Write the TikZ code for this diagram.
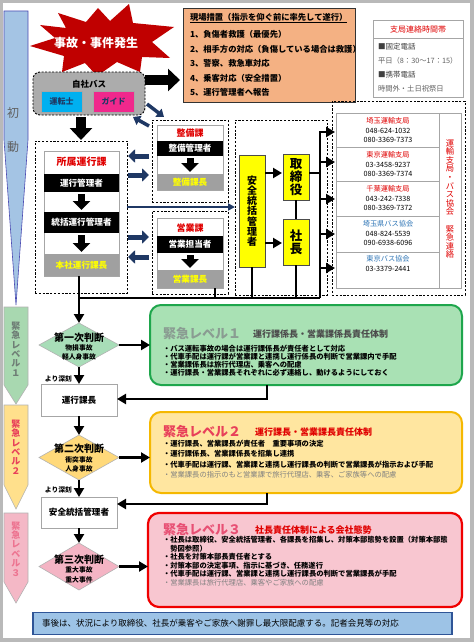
\documentclass[tikz,border=0pt]{standalone}
\usepackage{fontspec}
\setmainfont{Noto Sans CJK JP}
\usetikzlibrary{arrows.meta,shapes.geometric}
\newcommand\jfs[1]{\fontsize{#1}{#1}\selectfont}
\definecolor{navy}{HTML}{1F3864}
\definecolor{phaseblue}{HTML}{A4C4E4}
\definecolor{lvonebar}{HTML}{A8D8B0}
\definecolor{lvtwobar}{HTML}{FFE08C}
\definecolor{lvthreebar}{HTML}{F4B8C6}
\definecolor{lvonefill}{HTML}{A9E1B4}
\definecolor{lvoneline}{HTML}{1EA64C}
\definecolor{lvtwofill}{HTML}{FFE6A0}
\definecolor{lvtwoline}{HTML}{F5B800}
\definecolor{lvthreefill}{HTML}{F8C6D0}
\definecolor{lvthreeline}{HTML}{F00000}
\definecolor{diaone}{HTML}{A8DDB8}
\definecolor{diatwo}{HTML}{FFD97A}
\definecolor{diathree}{HTML}{F4B4C4}
\definecolor{orangebox}{HTML}{F4B183}
\definecolor{burst}{HTML}{C00000}
\definecolor{cyanbox}{HTML}{00B0F0}
\definecolor{magbox}{HTML}{F0288C}
\definecolor{grayband}{HTML}{A0A0A0}
\definecolor{ylw}{HTML}{FFFF00}
\definecolor{footfill}{HTML}{9DC3E6}
\definecolor{footline}{HTML}{2F5597}
\definecolor{txtgray}{HTML}{606060}
\definecolor{redtxt}{HTML}{E00000}
\definecolor{bluetxt}{HTML}{2E75B6}
\definecolor{lvonetitle}{HTML}{8A9C92}
\definecolor{lvtwotitle}{HTML}{E8405A}
\definecolor{lvthreetitle}{HTML}{E85074}
\begin{document}
\begin{tikzpicture}[x=1pt,y=-1pt,
  every node/.style={inner sep=0pt,outer sep=0pt},
  dashbox/.style={draw=black,line width=0.9pt,dash pattern=on 2.2pt off 1.6pt},
  wbox/.style={draw=gray!70,fill=white,line width=0.6pt},
  bandk/.style={fill=black,text=white,font=\jfs{8.6}\bfseries},
  bandg/.style={fill=grayband,text=ylw,font=\jfs{8.6}\bfseries},
  ybox/.style={draw=gray!60!black,fill=ylw,line width=0.6pt,align=center},
  flowbox/.style={draw=gray!70,fill=white,line width=0.6pt,font=\jfs{8.6}\bfseries},
  judg/.style={diamond,draw=gray!60,line width=0.6pt,minimum width=80,minimum height=44},
  bigarr/.style={line width=10pt,-{Triangle[width=22pt,length=12pt]}},
  midarr/.style={line width=7pt,-{Triangle[width=17pt,length=9pt]}},
  navyarr/.style={navy,line width=5pt,-{Triangle[width=13pt,length=7pt]}},
  navydiag/.style={navy,line width=3.5pt,-{Triangle[width=10pt,length=7pt]}},
  navythin/.style={navy,line width=1.8pt,-{Triangle[width=7pt,length=7pt]}},
  flowarr/.style={line width=2.8pt,-{Triangle[width=10pt,length=9pt]}},
  busline/.style={line width=2.8pt},
  bul/.style={anchor=west,font=\jfs{7.3}\bfseries},
  bulgray/.style={anchor=west,font=\jfs{7.3},text=gray},
  ctxt/.style={font=\jfs{7.2}}
]
\useasboundingbox (0,0) rectangle (474,642);
\fill[gray!55] (0,0) rectangle (474,642);
\fill[white] (3,3) rectangle (470,638);

% phase bars
\draw[fill=phaseblue,draw=gray!60!blue,line width=0.6pt] (4,11) -- (28,11) -- (28,140) -- (16,305) -- (4,140) -- cycle;
\node[text=txtgray,font=\jfs{12}] (sho) at (13,113) {初};
\node[text=txtgray,font=\jfs{12}] (dou) at (13,147) {動};
\draw[fill=lvonebar,draw=gray!60,line width=0.6pt] (4,307) -- (28,307) -- (28,385) -- (16,404) -- (4,385) -- cycle;
\node[text=lvonetitle!80!black,font=\fontsize{9}{9.4}\selectfont\bfseries,align=center] (lvonev) at (16,349) {緊\\急\\レ\\ベ\\ル\\１};
\draw[fill=lvtwobar,draw=gray!60,line width=0.6pt] (4,405) -- (28,405) -- (28,485) -- (16,509) -- (4,485) -- cycle;
\node[text=lvtwotitle,font=\fontsize{9}{9.4}\selectfont\bfseries,align=center] (lvtwov) at (16,447) {緊\\急\\レ\\ベ\\ル\\２};
\draw[fill=lvthreebar,draw=gray!60,line width=0.6pt] (4,513) -- (28,513) -- (28,582) -- (16,603) -- (4,582) -- cycle;
\node[text=lvthreetitle!80!white,font=\fontsize{9}{9.4}\selectfont\bfseries,align=center] (lvthreev) at (16,549) {緊\\急\\レ\\ベ\\ル\\３};

% starburst
\fill[burst] (30,46) -- (55,38) -- (40,25) -- (66,28) -- (58,13) -- (86,22) -- (98,8) -- (110,21) -- (129,4) -- (133,23) -- (174,27) -- (152,42) -- (170,58) -- (142,57) -- (140,72) -- (117,62) -- (97,76) -- (85,63) -- (62,72) -- (64,56) -- cycle;
\node[text=white,font=\jfs{12}\bfseries] (burstT) at (96,43) {事故・事件発生};

% own bus
\node[draw=black,dash pattern=on 2pt off 1.5pt,line width=0.9pt,fill=gray!65,rounded corners=7pt,minimum width=112,minimum height=43] (bus) at (89,93.5) {};
\node[font=\jfs{8.5}\bfseries] (busT) at (89,84.5) {自社バス};
\node[fill=cyanbox,draw=gray!70,minimum width=41,minimum height=21,font=\jfs{8}\bfseries,text=navy] (drv) at (61.5,101.5) {運転士};
\node[fill=magbox,draw=gray!70,minimum width=41,minimum height=21,font=\jfs{8}\bfseries,text=navy] (gd) at (113.5,101.5) {ガイド};

% on-site measures
\node[draw=gray!40!black,fill=orangebox,line width=0.6pt,minimum width=172,minimum height=94] (genba) at (269,55) {};
\node[anchor=west,font=\jfs{8.3}\bfseries] (gzero) at (190,18) {\underline{現場措置（指示を仰ぐ前に率先して遂行）}};
\node[anchor=west,font=\jfs{8.3}\bfseries] (gone) at (190,34) {1、負傷者救護（最優先）};
\node[anchor=west,font=\jfs{8.3}\bfseries] (gtwo) at (190,49) {2、相手方の対応（負傷している場合は救護）};
\node[anchor=west,font=\jfs{8.3}\bfseries] (gthree) at (190,63.5) {3、警察、救急車対応};
\node[anchor=west,font=\jfs{8.3}\bfseries] (gfour) at (190,78) {4、乗客対応（安全措置）};
\node[anchor=west,font=\jfs{8.3}\bfseries] (gfive) at (190,92) {5、運行管理者へ報告};

% contact hours
\node[draw=gray!70,fill=white,line width=0.6pt,minimum width=90,minimum height=77] (shikyoku) at (418,58.5) {};
\coordinate (sepc) at (418,38);
\draw[gray!70,line width=0.6pt] (shikyoku.west |- sepc) -- (shikyoku.east |- sepc);
\node[text=redtxt,font=\jfs{8}] (shT) at (418,29) {支局連絡時間帯};
\node[anchor=west,font=\jfs{7.5},text=black!75] (shA) at (378,47) {■固定電話};
\node[anchor=west,font=\jfs{7.3},text=txtgray] (shB) at (378,61) {平日（8：30～17：15）};
\node[anchor=west,font=\jfs{7.5},text=black!75] (shC) at (378,75) {■携帯電話};
\node[anchor=west,font=\jfs{7.3},text=txtgray] (shD) at (378,89) {時間外・土日祝祭日};

% arrows from bus
\coordinate (bA) at (0,80);
\draw[bigarr] (bus.east |- bA) -- ([xshift=-3pt]genba.west |- bA);
\draw[bigarr,shorten <=2pt] (bus.south -| 81,0) -- (81,140);
\coordinate (dgA) at (147,104);
\coordinate (dgB) at (164,117);
\coordinate (dgC) at (149,126);
\coordinate (dgD) at (133,117);
\draw[navydiag] (dgA) -- (dgB);
\draw[navydiag] (dgC) -- (dgD);

% maintenance section
\node[dashbox,minimum width=76,minimum height=82] (seibiG) at (190,161) {};
\node[wbox,minimum width=66,minimum height=65] (seibiB) at (190,157.5) {};
\node[text=redtxt,font=\jfs{9}\bfseries] (seibiT) at (190,133) {整備課};
\node[bandk,minimum width=66,minimum height=15] (seibiK) at (190,148.5) {整備管理者};
\node[bandg,minimum width=66,minimum height=16] (seibiC) at (190,182) {整備課長};
\draw[midarr,shorten <=2pt,shorten >=2pt] (seibiK.south) -- (seibiC.north);

% sales section
\node[dashbox,minimum width=76,minimum height=83] (eigyoG) at (190,252.5) {};
\node[wbox,minimum width=66,minimum height=70] (eigyoB) at (190,253) {};
\node[text=redtxt,font=\jfs{9}\bfseries] (eigyoT) at (190,228) {営業課};
\node[bandk,minimum width=66,minimum height=17] (eigyoK) at (190,244.5) {営業担当者};
\node[bandg,minimum width=66,minimum height=18] (eigyoC) at (190,279) {営業課長};
\draw[midarr,shorten <=2pt,shorten >=2pt] (eigyoK.south) -- (eigyoC.north);

% operations section
\node[dashbox,minimum width=92,minimum height=152] (shozG) at (81,217) {};
\node[wbox,minimum width=75,minimum height=125] (shozB) at (81.5,213.5) {};
\node[text=redtxt,font=\jfs{10}\bfseries] (shozT) at (81.5,162) {所属運行課};
\node[bandk,minimum width=75,minimum height=18] (unkan) at (81.5,183) {運行管理者};
\node[bandk,minimum width=75,minimum height=21] (tokatsu) at (81.5,222.5) {統括運行管理者};
\node[bandg,minimum width=75,minimum height=22] (hq) at (81.5,265) {本社運行課長};
\draw[midarr,shorten <=2pt,shorten >=2pt] (unkan.south) -- (tokatsu.north);
\draw[midarr,shorten <=2pt,shorten >=2pt] (tokatsu.south) -- (hq.north);

% navy arrows between sections
\coordinate (naA) at (0,156);
\coordinate (naB) at (0,175);
\coordinate (naC) at (0,237);
\coordinate (naD) at (0,257);
\draw[navyarr,shorten <=3pt,shorten >=1pt] (seibiG.west |- naA) -- (shozG.east |- naA);
\draw[navyarr,shorten <=1pt,shorten >=3pt] (shozG.east |- naB) -- (seibiG.west |- naB);
\draw[navyarr,shorten <=1pt,shorten >=3pt] (shozG.east |- naC) -- (eigyoG.west |- naC);
\draw[navyarr,shorten <=3pt,shorten >=1pt] (eigyoG.west |- naD) -- (shozG.east |- naD);

% safety manager group
\node[dashbox,minimum width=92,minimum height=175] (anzenG) at (281,207.5) {};
\coordinate (nl) at (0,207);
\draw[navythin] (shozG.east |- nl) -- (anzenG.west |- nl);
\node[ybox,minimum width=26,minimum height=112,font=\fontsize{10}{10.2}\selectfont\bfseries] (anzen) at (252,211) {安\\全\\統\\括\\管\\理\\者};
\node[ybox,minimum width=26,minimum height=46,font=\fontsize{12.5}{12.8}\selectfont\bfseries] (tori) at (296,177) {取\\締\\役};
\node[ybox,minimum width=26,minimum height=46,font=\fontsize{12.5}{12.8}\selectfont\bfseries] (shacho) at (296,242) {社\\長};
\coordinate (ta) at (0,173);
\coordinate (tb) at (0,243);
\draw[flowarr,shorten >=1pt] (anzen.east |- ta) -- (tori.west |- ta);
\draw[flowarr,shorten >=1pt] (anzen.east |- tb) -- (shacho.west |- tb);
\draw[busline] (tori.south) -- (shacho.north);

% contact table
\node[dashbox,minimum width=133,minimum height=194] (contactG) at (398.5,198) {};
\node[draw=gray!70,fill=white,line width=0.6pt,minimum width=125,minimum height=175] (contact) at (398.5,200.5) {};
\coordinate (cdiv) at (439,0);
\draw[gray!70,line width=0.6pt] (cdiv |- contact.north) -- (cdiv |- contact.south);
\foreach \yy in {147,181,216,252} {\draw[gray!70,line width=0.6pt] (contact.west |- 0,\yy) -- (cdiv |- 0,\yy);}
\node[ctxt,text=redtxt] (cA) at (388,121) {埼玉運輸支局};
\node[ctxt] (cAa) at (388,130.5) {048-624-1032};
\node[ctxt] (cAb) at (388,140) {080-3369-7373};
\node[ctxt,text=redtxt] (cB) at (388,155) {東京運輸支局};
\node[ctxt] (cBa) at (388,164.5) {03-3458-9237};
\node[ctxt] (cBb) at (388,174) {080-3369-7374};
\node[ctxt,text=redtxt] (cC) at (388,189) {千葉運輸支局};
\node[ctxt] (cCa) at (388,198.5) {043-242-7338};
\node[ctxt] (cCb) at (388,208) {080-3369-7372};
\node[ctxt,text=bluetxt] (cD) at (388,224) {埼玉県バス協会};
\node[ctxt] (cDa) at (388,233.5) {048-824-5539};
\node[ctxt] (cDb) at (388,243) {090-6938-6096};
\node[ctxt,text=bluetxt] (cE) at (388,259) {東京バス協会};
\node[ctxt] (cEa) at (388,268.5) {03-3379-2441};
\node[text=redtxt,font=\fontsize{8.3}{8.6}\selectfont,align=center] (kinkyu) at (450,199) {運\\輸\\支\\局\\・\\バ\\ス\\協\\会\\　\\緊\\急\\連\\絡};

% bus lines
\coordinate (busTop) at (320,132);
\coordinate (busBot) at (320,298);
\coordinate (ex) at (215,0);
\draw[busline] (tori.east |- ta) -- (busTop |- ta);
\draw[flowarr,shorten >=1pt] (busBot) -- (busTop) -- (contact.west |- busTop);
\foreach \yy in {162,199,234,268} {\draw[flowarr,shorten >=1pt] (busTop |- 0,\yy) -- (contact.west |- 0,\yy);}
\draw[busline] (eigyoC.south -| ex) -- (ex |- busBot);
\draw[busline] (anzen.south) -- (anzen.south |- busBot);
\draw[busline] (shacho.south) -- (shacho.south |- busBot);

% judgement flow
\node[judg,fill=diaone] (jone) at (79,345) {};
\node[font=\jfs{10}\bfseries] (joneA) at (79,338) {第一次判断};
\node[font=\jfs{6.8}\bfseries] (joneB) at (79,348) {物損事故};
\node[font=\jfs{6.8}\bfseries] (joneC) at (79,357) {軽人身事故};
\draw[busline] (hq.south -| jone.north) |- (busBot);
\draw[flowarr] (hq.south -| jone.north) -- (jone.north);

\node[flowbox,minimum width=76,minimum height=32] (unka) at (79,400) {運行課長};
\node[judg,fill=diatwo,minimum height=45] (jtwo) at (79,457.5) {};
\node[font=\jfs{10}\bfseries] (jtwoA) at (79,449) {第二次判断};
\node[font=\jfs{6.8}\bfseries] (jtwoB) at (79,460) {衝突事故};
\node[font=\jfs{6.8}\bfseries] (jtwoC) at (79,469) {人身事故};
\node[flowbox,minimum width=76,minimum height=31] (anzenB) at (79,512.5) {安全統括管理者};
\node[judg,fill=diathree,minimum height=47] (jthree) at (79,566.5) {};
\node[font=\jfs{10}\bfseries] (jthreeA) at (79,560) {第三次判断};
\node[font=\jfs{6.8}\bfseries] (jthreeB) at (79,570) {重大事故};
\node[font=\jfs{6.8}\bfseries] (jthreeC) at (79,580) {重大事件};

\node[anchor=east,font=\jfs{6.8}\bfseries] (yoriA) at (72,379) {より深刻};
\node[anchor=east,font=\jfs{6.8}\bfseries] (yoriB) at (72,490) {より深刻};
\draw[flowarr] (jone.south) -- (unka.north);
\draw[flowarr] (unka.south) -- (jtwo.north);
\draw[flowarr] (jtwo.south) -- (anzenB.north);
\draw[flowarr] (anzenB.south) -- (jthree.north);

% level boxes
\node[draw=lvoneline,line width=2pt,fill=lvonefill,rounded corners=11pt,minimum width=312,minimum height=80] (lvone) at (306,345) {};
\node[draw=lvtwoline,line width=2pt,fill=lvtwofill,rounded corners=11pt,minimum width=312,minimum height=81] (lvtwo) at (306,452.5) {};
\node[draw=lvthreeline,line width=2.2pt,fill=lvthreefill,rounded corners=11pt,minimum width=314,minimum height=94] (lvthree) at (305,560) {};

\draw[flowarr] (jone.east) -- (jone.east -| lvone.west);
\draw[flowarr] (jtwo.east) -- (jtwo.east -| lvtwo.west);
\draw[flowarr] (jthree.east) -- (jthree.east -| lvthree.west);
\coordinate (rA) at (267,399);
\coordinate (rB) at (267,504);
\draw[flowarr] (lvone.south -| rA) -- (rA) -- (unka.east |- rA);
\draw[flowarr] (lvtwo.south -| rB) -- (rB) -- (anzenB.east |- rB);

\node[anchor=west,text=lvonetitle,font=\jfs{13}\bfseries] (lvoneT) at (163,334) {緊急レベル１};
\node[anchor=west,text=black!70,font=\jfs{9}\bfseries] (lvoneS) at (253,334) {運行課係長・営業課係長責任体制};
\node[bul] (lvoneA) at (163,349) {・バス運転事故の場合は運行課係長が責任者として対応};
\node[bul] (lvoneB) at (163,357) {・代車手配は運行課が営業課と連携し運行係長の判断で営業課内で手配};
\node[bul] (lvoneC) at (163,365) {・営業課係長は旅行代理店、乗客への配慮};
\node[bul] (lvoneD) at (163,373) {・運行課長・営業課長それぞれに必ず連絡し、動けるようにしておく};

\node[anchor=west,text=lvtwotitle,font=\jfs{13}\bfseries] (lvtwoT) at (163,432) {緊急レベル２};
\node[anchor=west,text=redtxt,font=\jfs{9}\bfseries] (lvtwoS) at (255,432) {運行課長・営業課長責任体制};
\node[bul] (lvtwoA) at (163,444) {・運行課長、営業課長が責任者　重要事項の決定};
\node[bul] (lvtwoB) at (163,454) {・運行課係長、営業課係長を招集し連携};
\node[bul] (lvtwoC) at (163,464.5) {・代車手配は運行課、営業課と連携し運行課長の判断で営業課長が指示および手配};
\node[bulgray] (lvtwoD) at (163,474.5) {・営業課長の指示のもと営業課で旅行代理店、乗客、ご家族等への配慮};

\node[anchor=west,text=lvthreetitle,font=\jfs{13}\bfseries] (lvthreeT) at (163,530) {緊急レベル３};
\node[anchor=west,text=redtxt,font=\jfs{9}\bfseries] (lvthreeS) at (255,530) {社長責任体制による会社態勢};
\node[bul] (lvthreeA) at (163,540) {・社長は取締役、安全統括管理者、各課長を招集し、対策本部態勢を設置（対策本部態};
\node[bul] (lvthreeB) at (163,548.5) {　勢図参照）};
\node[bul] (lvthreeC) at (163,557) {・社長を対策本部長責任者とする};
\node[bul] (lvthreeD) at (163,565.5) {・対策本部の決定事項、指示に基づき、任務遂行};
\node[bul] (lvthreeE) at (163,574) {・代車手配は運行課、営業課と連携し運行課長の判断で営業課長が手配};
\node[bulgray] (lvthreeF) at (163,582.5) {・営業課長は旅行代理店、乗客やご家族への配慮};

% footer
\node[draw=footline,line width=1.3pt,fill=footfill,minimum width=419,minimum height=22] (foot) at (242.5,623.5) {};
\node[anchor=west,font=\jfs{8.5}] (footT) at (42,623.5) {事後は、状況により取締役、社長が乗客やご家族へ謝罪し最大限配慮する。記者会見等の対応};
\end{tikzpicture}
\end{document}
